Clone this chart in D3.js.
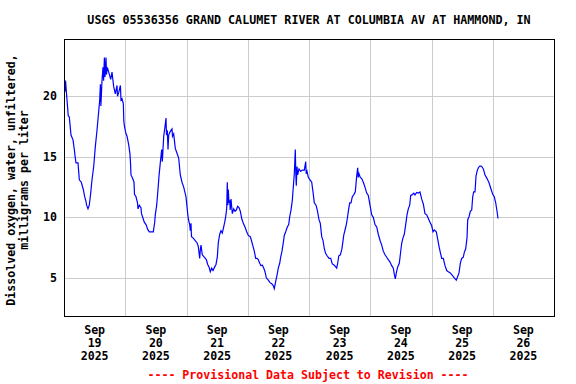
<!DOCTYPE html>
<html>
<head>
<meta charset="utf-8">
<script src="https://cdn.jsdelivr.net/npm/d3@7"></script>
<style>
  html, body { margin: 0; padding: 0; background: #fff; }
  svg { display: block; }
  text { font-family: "DejaVu Sans Mono", "Liberation Mono", monospace; font-weight: bold; }
</style>
</head>
<body>
<svg id="chart" width="576" height="384"></svg>
<script>
// ---- Data (hours since 2025-09-19 00:00, dissolved oxygen mg/L) ----
const title = "USGS 05536356 GRAND CALUMET RIVER AT COLUMBIA AV AT HAMMOND, IN";
const yTitleLines = ["Dissolved oxygen, water, unfiltered,", "milligrams per liter"];
const footer = "---- Provisional Data Subject to Revision ----";
const yTicks = [5, 10, 15, 20];
const dayLabels = ["19", "20", "21", "22", "23", "24", "25", "26"];
const monthLabel = "Sep";
const yearLabel = "2025";

const hours = [
  0.2, 0.4, 0.6, 1.06, 1.45, 1.65, 2.08, 2.74, 3.53, 4.11, 4.31, 4.70, 5.49, 6.00, 6.78, 7.56, 8.11, 8.62, 8.86, 9.40,
  9.91, 10.46, 10.97, 11.64, 12.26, 12.93, 13.44, 13.99, 14.26, 14.46, 14.89, 15.28, 15.52, 15.83, 16.07, 16.46, 16.65, 16.97, 17.52, 18.30,
  18.81, 19.47, 20.10, 20.77, 20.96, 21.43, 22.10, 22.33, 22.73, 23.24, 23.43, 23.63, 24.18, 24.69, 25.35, 25.86, 26.06, 26.25, 26.92, 27.43,
  27.62, 28.21, 28.80, 29.00, 29.51, 30.17, 30.37, 30.84, 31.46, 32.13, 32.80, 33.42, 34.99, 35.54, 35.77, 36.32, 36.83, 37.22, 37.73, 38.28,
  38.52, 39.07, 39.58, 39.97, 40.16, 40.48, 40.75, 41.03, 41.65, 42.32, 42.51, 42.98, 43.61, 44.28, 44.94, 45.57, 46.24, 46.90, 47.80, 48.47,
  48.78, 49.25, 49.49, 49.76, 49.96, 50.55, 51.33, 52.11, 52.62, 53.17, 53.41, 53.68, 54.19, 54.97, 55.76, 56.31, 56.82, 57.33, 57.87, 58.38,
  59.05, 59.56, 60.07, 60.46, 61.01, 61.52, 62.03, 62.58, 62.97, 63.36, 63.75, 63.99, 64.18, 64.38, 64.65, 64.93, 65.12, 65.44, 65.95, 66.50,
  67.01, 67.51, 68.06, 68.57, 69.08, 69.63, 70.26, 70.92, 71.59, 72.22, 73.00, 73.55, 74.06, 74.57, 75.11, 75.62, 76.13, 76.68, 77.19, 77.70,
  78.25, 78.76, 79.27, 80.05, 80.72, 81.39, 81.89, 82.40, 82.95, 83.46, 83.97, 84.52, 84.91, 85.42, 85.93, 86.32, 86.87, 87.50, 88.05, 88.44,
  88.95, 89.46, 89.85, 90.24, 90.63, 90.83, 91.02, 91.30, 91.57, 92.08, 92.75, 93.38, 94.16, 94.71, 94.90, 95.22, 95.73, 96.39, 97.06, 97.57,
  98.08, 98.75, 99.25, 99.92, 100.43, 100.98, 101.49, 102.00, 102.54, 103.17, 103.84, 104.50, 105.13, 105.80, 106.46, 106.85, 107.25, 107.64, 108.26, 108.81,
  109.20, 109.60, 110.11, 110.62, 111.01, 111.56, 111.95, 112.46, 112.97, 113.63, 114.14, 114.69, 115.08, 115.28, 115.59, 116.10, 116.65, 117.28, 117.94, 118.61,
  119.24, 119.90, 120.57, 121.20, 121.86, 122.53, 123.15, 123.82, 124.49, 125.11, 125.78, 126.45, 127.07, 127.74, 128.41, 129.03, 129.42, 129.82, 130.21, 130.76,
  131.38, 131.78, 132.32, 132.83, 133.34, 133.89, 134.40, 134.91, 135.46, 135.85, 136.36, 137.03, 137.54, 138.20, 138.83, 139.49, 140.16, 140.79, 141.45, 142.12,
  142.75, 143.41, 144.08, 144.59, 145.10, 145.88, 146.43, 146.94, 147.45, 148.00, 148.62, 149.29, 149.96, 150.58, 151.37, 152.15, 152.93, 153.72, 154.26, 154.78,
  155.29, 155.83, 156.46, 156.85, 157.40, 157.91, 158.19, 158.70, 159.21, 159.76, 160.15, 160.54, 161.05, 161.44, 161.84, 162.35, 163.02, 163.68, 164.31, 164.98,
  165.76, 166.54, 167.21, 167.99, 168.61, 169.16, 169.67, 170.06
];
const oxygen = [
  21.3, 20.4, 21.3, 20.0, 19.0, 18.4, 18.3, 16.8, 16.4, 15.5, 15.1, 14.5, 14.5, 13.1, 12.9, 12.3, 11.7, 11.3, 11.0, 10.7,
  11.0, 12.0, 13.1, 14.2, 15.8, 17.2, 18.4, 19.7, 21.0, 19.2, 21.3, 22.4, 21.3, 23.2, 21.6, 23.2, 21.8, 22.4, 22.0, 21.4,
  22.0, 20.8, 20.2, 20.9, 20.0, 20.3, 20.9, 19.7, 19.8, 19.4, 18.0, 17.6, 17.0, 16.7, 16.0, 15.2, 14.5, 13.5, 13.2, 12.9,
  11.9, 11.7, 11.2, 10.7, 11.0, 10.8, 10.3, 10.0, 9.6, 9.4, 9.0, 8.8, 8.8, 9.6, 10.2, 11.0, 12.3, 13.4, 14.5, 15.6,
  14.6, 16.7, 17.5, 18.2, 16.8, 17.2, 15.6, 16.8, 17.1, 17.3, 16.7, 16.9, 15.7, 15.3, 14.9, 13.5, 12.9, 12.5, 11.7, 10.3,
  9.8, 9.4, 8.9, 9.5, 8.4, 8.3, 8.1, 7.9, 7.6, 6.6, 7.3, 7.7, 6.9, 6.7, 6.5, 6.1, 5.9, 5.5, 5.8, 5.6,
  5.9, 6.1, 6.7, 7.9, 8.6, 8.9, 8.7, 9.2, 9.6, 10.05, 10.7, 12.9, 11.0, 12.3, 11.2, 11.4, 10.6, 11.5, 10.3, 10.7,
  10.5, 10.6, 10.9, 10.8, 10.5, 9.9, 9.5, 9.2, 8.8, 8.5, 8.4, 8.0, 7.6, 7.2, 6.6, 6.6, 6.5, 6.2, 6.0, 6.05,
  5.8, 5.5, 5.0, 4.8, 4.6, 4.5, 4.4, 4.1, 4.7, 5.2, 5.8, 6.2, 6.7, 7.2, 7.9, 8.5, 8.8, 9.2, 9.4, 10.05,
  10.6, 11.4, 12.5, 13.6, 15.6, 13.6, 12.6, 14.2, 13.5, 14.0, 13.8, 13.9, 13.9, 14.6, 13.6, 13.8, 13.3, 13.1, 12.9, 12.1,
  11.2, 11.0, 10.6, 9.8, 9.5, 8.4, 8.1, 7.4, 7.0, 6.8, 6.6, 6.6, 6.15, 6.05, 5.9, 5.8, 6.2, 6.8, 6.9, 7.3,
  7.85, 8.5, 8.95, 9.4, 9.9, 10.7, 11.2, 11.2, 11.7, 11.9, 12.1, 13.4, 14.1, 13.3, 13.6, 13.3, 13.2, 12.9, 12.5, 12.0,
  11.8, 11.0, 10.2, 10.0, 9.4, 9.2, 8.6, 8.1, 7.7, 7.2, 6.9, 6.7, 6.5, 6.3, 6.0, 5.8, 5.3, 4.9, 5.4, 5.9,
  6.2, 6.9, 7.85, 8.3, 8.6, 9.4, 10.2, 10.7, 11.0, 11.8, 11.85, 12.0, 11.85, 12.05, 12.0, 12.1, 11.5, 11.1, 10.3, 10.2,
  9.9, 9.6, 9.3, 8.8, 8.95, 8.8, 8.2, 7.6, 7.1, 6.6, 6.6, 6.0, 5.6, 5.5, 5.4, 5.2, 5.0, 4.8, 5.1, 5.4,
  6.2, 6.6, 6.7, 7.1, 7.4, 8.3, 9.8, 10.05, 10.5, 10.6, 11.7, 12.1, 12.1, 13.4, 13.8, 14.1, 14.25, 14.2, 14.0, 13.5,
  13.2, 12.85, 12.4, 11.9, 11.7, 11.2, 10.5, 9.9
];

// ---- Chart ----
const svg = d3.select("#chart");
const W = 576, H = 384;
const plot = { left: 64, right: 554, top: 39, bottom: 316 };

const startTime = Date.UTC(2025, 8, 19);
const endTime = Date.UTC(2025, 8, 27);
const data = hours.map((h, i) => ({ t: new Date(startTime + h * 3600e3), v: oxygen[i] }));

const x = d3.scaleUtc().domain([new Date(startTime), new Date(endTime)]).range([plot.left, plot.right]);
const y = d3.scaleLinear().domain([1.84, 24.74]).range([plot.bottom, plot.top]);

// gridlines
const dayBounds = d3.utcDay.range(new Date(startTime + 86400e3), new Date(endTime));
svg.append("g").selectAll("line").data(dayBounds).join("line")
  .attr("x1", d => Math.round(x(d)) + 0.5).attr("x2", d => Math.round(x(d)) + 0.5)
  .attr("y1", plot.top).attr("y2", plot.bottom)
  .attr("stroke", "#cccccc").attr("stroke-width", 1);
svg.append("g").selectAll("line").data(yTicks).join("line")
  .attr("x1", plot.left).attr("x2", plot.right)
  .attr("y1", d => Math.round(y(d)) + 0.5).attr("y2", d => Math.round(y(d)) + 0.5)
  .attr("stroke", "#cccccc").attr("stroke-width", 1);

// data line
const line = d3.line().x(d => x(d.t)).y(d => y(d.v));
svg.append("path").datum(data)
  .attr("d", line)
  .attr("fill", "none").attr("stroke", "#0000ff").attr("stroke-width", 1.2)
  .attr("stroke-linejoin", "miter");

// frame
svg.append("rect")
  .attr("x", plot.left + 0.5).attr("y", plot.top + 0.5)
  .attr("width", plot.right - plot.left).attr("height", plot.bottom - plot.top)
  .attr("fill", "none").attr("stroke", "#000").attr("stroke-width", 1);

// y tick labels
svg.append("g").selectAll("text").data(yTicks).join("text")
  .attr("x", 57).attr("y", d => y(d) + 4)
  .attr("text-anchor", "end").attr("font-size", "11.6px").attr("fill", "#000")
  .text(d => d);

// x tick labels (centered at noon of each day)
const days = d3.utcDay.range(new Date(startTime), new Date(endTime));
const xl = svg.append("g").selectAll("g").data(days).join("g")
  .attr("transform", d => `translate(${x(new Date(+d + 12 * 3600e3))},0)`);
xl.append("text").attr("y", 334).attr("text-anchor", "middle").attr("font-size", "11.6px").text(monthLabel);
xl.append("text").attr("y", 347).attr("text-anchor", "middle").attr("font-size", "11.6px").text((d, i) => dayLabels[i]);
xl.append("text").attr("y", 360).attr("text-anchor", "middle").attr("font-size", "11.6px").text(yearLabel);

// title
svg.append("text").attr("x", 309).attr("y", 24).attr("text-anchor", "middle")
  .attr("font-size", "11.7px").attr("fill", "#000").text(title);

// y-axis title
const cy = 180;
svg.append("text").attr("transform", `translate(15,${cy}) rotate(-90)`)
  .attr("text-anchor", "middle").attr("font-size", "11.6px").text(yTitleLines[0]);
svg.append("text").attr("transform", `translate(28,${cy}) rotate(-90)`)
  .attr("text-anchor", "middle").attr("font-size", "11.6px").text(yTitleLines[1]);

// footer
svg.append("text").attr("x", 308).attr("y", 379).attr("text-anchor", "middle")
  .attr("font-size", "11.6px").attr("fill", "#ff0000").text(footer);
</script>
</body>
</html>
